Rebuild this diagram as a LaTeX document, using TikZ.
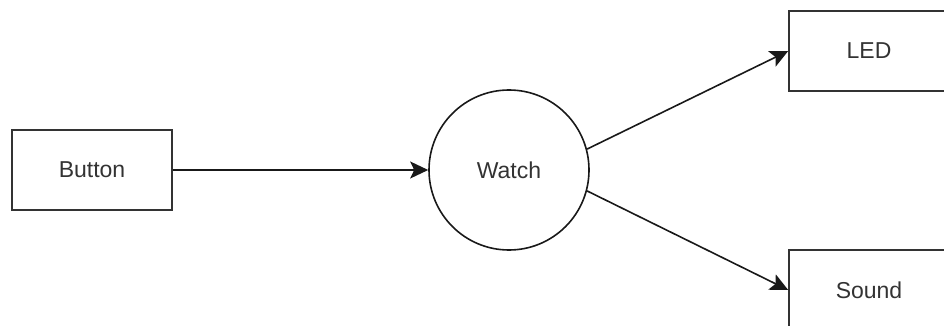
\documentclass[tikz,border=0pt]{standalone}
\usepackage{fontspec}
\setmainfont{Liberation Sans}
\usetikzlibrary{arrows.meta,positioning}

\begin{document}
\begin{tikzpicture}[
  x=1pt, y=-1pt,
  block/.style={draw=black!80, line width=1.6pt, minimum width=160pt, minimum height=80pt, inner sep=0pt, font=\fontsize{23}{27}\selectfont, text=black!80, anchor=center},
  watcher/.style={circle, draw=black!90, line width=1.6pt, minimum size=160pt, inner sep=0pt, font=\fontsize{23}{27}\selectfont, text=black!80},
  link/.style={-{Stealth[length=18pt, width=17pt, inset=4pt]}, line width=1.6pt, black!90},
]
\useasboundingbox (0,0) rectangle (944,326);
\clip (0,0) rectangle (944,326);

% Nodes
\node[block] (button) at (92,170) {Button};
\node[watcher] (watch) at (509,170) {Watch};
\node[block] (led) at (869,51) {LED};
\node[block] (sound) at (869,290) {Sound};

% Arrows
\draw[link] (button) -- (watch);
\draw[link] (watch.15) -- (led.west);
\draw[link] (watch.-15) -- (sound.west);

\end{tikzpicture}
\end{document}
